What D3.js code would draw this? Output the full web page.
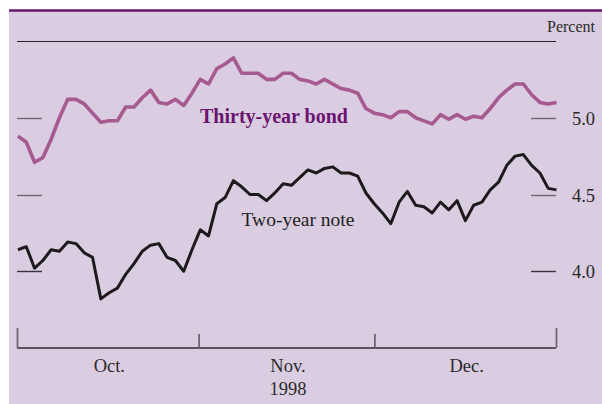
<!DOCTYPE html>
<html>
<head>
<meta charset="utf-8">
<script src="https://cdn.jsdelivr.net/npm/d3@7"></script>
<style>
  html, body { margin: 0; padding: 0; background: #ffffff; }
  svg { display: block; }
  text { font-family: "Liberation Serif", "DejaVu Serif", serif; }
</style>
</head>
<body>
<svg id="chart" width="602" height="404"></svg>
<script>
// Daily yields, October–December 1998, one value per trading day (percent)
const bondYield = [
  4.88, 4.84, 4.71, 4.74, 4.86, 5.00, 5.12, 5.12, 5.09, 5.03, 4.97,
  4.98, 4.98, 5.07, 5.07, 5.13, 5.18, 5.10, 5.09, 5.12, 5.08, 5.16,
  5.25, 5.22, 5.32, 5.35, 5.39, 5.29, 5.29, 5.29, 5.25, 5.25, 5.29,
  5.29, 5.25, 5.24, 5.22, 5.25, 5.22, 5.19, 5.18, 5.16, 5.06, 5.03,
  5.02, 5.00, 5.04, 5.04, 5.00, 4.98, 4.96, 5.02, 4.99, 5.02, 4.99,
  5.01, 5.00, 5.06, 5.13, 5.18, 5.22, 5.22, 5.15, 5.10, 5.09, 5.10
];
const noteYield = [
  4.14, 4.16, 4.02, 4.07, 4.14, 4.13, 4.19, 4.18, 4.12, 4.09, 3.82,
  3.86, 3.89, 3.98, 4.05, 4.13, 4.17, 4.18, 4.09, 4.07, 4.00, 4.14,
  4.27, 4.23, 4.44, 4.48, 4.59, 4.55, 4.50, 4.50, 4.46, 4.51, 4.57,
  4.56, 4.61, 4.66, 4.64, 4.67, 4.68, 4.64, 4.64, 4.62, 4.51, 4.44,
  4.38, 4.31, 4.45, 4.52, 4.43, 4.42, 4.38, 4.45, 4.40, 4.46, 4.33,
  4.43, 4.45, 4.53, 4.58, 4.69, 4.75, 4.76, 4.69, 4.64, 4.54, 4.53
];
const yTicks = [4.0, 4.5, 5.0];
const monthLabels = ["Oct.", "Nov.", "Dec."];
const yearLabel = "1998";
const unitLabel = "Percent";
const bondLabel = "Thirty-year bond";
const noteLabel = "Two-year note";

const W = 602, H = 404;
const svg = d3.select("#chart");

// panel background and top rule
svg.append("rect").attr("x", 9).attr("y", 10).attr("width", W - 9).attr("height", H - 10)
  .attr("fill", "#dacde1");
svg.append("line").attr("x1", 9).attr("x2", W).attr("y1", 10.5).attr("y2", 10.5)
  .attr("stroke", "#6b1470").attr("stroke-width", 2.5);

const left = 17, right = 556;
const y = d3.scaleLinear().domain([3.5, 5.5]).range([348, 41]);
const x = d3.scaleLinear().domain([0, bondYield.length - 1]).range([18, 556.5]);
const xMonth = d3.scaleTime()
  .domain([new Date(1998, 9, 1), new Date(1999, 0, 1)])
  .range([left, right]);

// top frame line at the upper end of the scale
svg.append("line").attr("x1", left).attr("x2", right)
  .attr("y1", Math.round(y(5.5)) + 0.5).attr("y2", Math.round(y(5.5)) + 0.5)
  .attr("stroke", "#222").attr("stroke-width", 1.2);

// short tick marks on both sides
const tickG = svg.append("g");
yTicks.forEach(v => {
  const yy = Math.round(y(v)) + 0.5;
  tickG.append("line").attr("x1", left).attr("x2", left + 25).attr("y1", yy).attr("y2", yy)
    .attr("stroke", v === 4.0 ? "#3a3340" : "#6e6672").attr("stroke-width", 1.4);
  tickG.append("line").attr("x1", right - 25).attr("x2", right).attr("y1", yy).attr("y2", yy)
    .attr("stroke", v === 4.0 ? "#3a3340" : "#6e6672").attr("stroke-width", 1.4);
  tickG.append("text").attr("x", 595).attr("y", yy + 6).attr("text-anchor", "end")
    .attr("font-size", 18.5).attr("fill", "#2a2a2a").text(d3.format(".1f")(v));
});

svg.append("text").attr("x", 595).attr("y", 32).attr("text-anchor", "end")
  .attr("font-size", 16).attr("fill", "#2a2a2a").text(unitLabel);

// bottom time axis with month boundaries
const axisY = y(3.5);
const xAxis = d3.axisBottom(xMonth)
  .tickValues([new Date(1998, 10, 1), new Date(1998, 11, 1)])
  .tickSize(-14).tickFormat("");
const axG = svg.append("g").attr("transform", `translate(0,${axisY})`).call(xAxis);
axG.select(".domain").attr("stroke", "#2e2a33").attr("stroke-width", 1.3)
  .attr("d", `M${left},0H${right}`);
axG.selectAll(".tick line").attr("stroke", "#6e6672").attr("stroke-width", 1.8);
[left, right].forEach(px => {
  svg.append("line").attr("x1", px + 0.5).attr("x2", px + 0.5).attr("y1", axisY - 20).attr("y2", axisY)
    .attr("stroke", "#6e6672").attr("stroke-width", 1.8);
});

const monthStarts = [new Date(1998, 9, 1), new Date(1998, 10, 1), new Date(1998, 11, 1), new Date(1999, 0, 1)];
monthLabels.forEach((m, i) => {
  const cx = (xMonth(monthStarts[i]) + xMonth(monthStarts[i + 1])) / 2 + 1.5;
  svg.append("text").attr("x", cx).attr("y", 371.5).attr("text-anchor", "middle")
    .attr("font-size", 18.5).attr("fill", "#2a2a2a").text(m);
});
svg.append("text").attr("x", (xMonth(monthStarts[1]) + xMonth(monthStarts[2])) / 2 + 1.5)
  .attr("y", 395).attr("text-anchor", "middle")
  .attr("font-size", 18.5).attr("fill", "#2a2a2a").text(yearLabel);

// yield lines
const line = d3.line().x((d, i) => x(i)).y(d => y(d)).curve(d3.curveLinear);
svg.append("path").datum(bondYield).attr("d", line)
  .attr("fill", "none").attr("stroke", "#a65a8f").attr("stroke-width", 3.6)
  .attr("stroke-linejoin", "round");
svg.append("path").datum(noteYield).attr("d", line)
  .attr("fill", "none").attr("stroke", "#1c1a1c").attr("stroke-width", 3)
  .attr("stroke-linejoin", "round");

// series labels
svg.append("text").attr("x", 200).attr("y", 123)
  .attr("font-size", 20).attr("font-weight", "bold").attr("fill", "#6b1470").text(bondLabel);
svg.append("text").attr("x", 241.5).attr("y", 225.5)
  .attr("font-size", 19.5).attr("fill", "#222").text(noteLabel);
</script>
</body>
</html>
